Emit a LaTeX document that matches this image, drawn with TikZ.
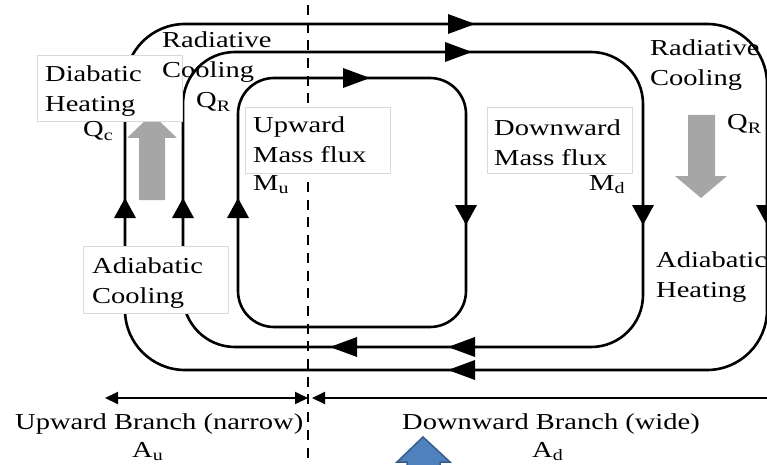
\documentclass[tikz,border=0pt]{standalone}
\usepackage{fontspec}
\setmainfont[FakeStretch=1.25]{Liberation Serif}
\usetikzlibrary{arrows.meta}
\definecolor{arrgray}{HTML}{A6A6A6}
\definecolor{boxgray}{HTML}{D9D9D9}
\definecolor{blueA}{HTML}{4F81BD}
\definecolor{blueB}{HTML}{385D8A}
\tikzset{
  loopline/.style={line width=2.6pt},
  txt/.style={font=\fontsize{22.8}{30}\selectfont, inner sep=0pt, anchor=base west, align=left},
  lbox/.style={draw=boxgray, line width=0.8pt, fill=white, anchor=north west, inner sep=0pt},
  dimline/.style={line width=2pt},
  headR/.pic={\fill (0,0) -- (-27,-10) -- (-27,10) -- cycle;},
  headL/.pic={\fill (0,0) -- (27,-10) -- (27,10) -- cycle;},
  headU/.pic={\fill (0,0) -- (-11,20) -- (11,20) -- cycle;},
  headD/.pic={\fill (0,0) -- (-11,-20) -- (11,-20) -- cycle;},
}
\begin{document}
\begin{tikzpicture}[x=1pt,y=-1pt]
\useasboundingbox (0,0) rectangle (767,465);
% loops
\draw[loopline, rounded corners=60pt] (125,200) -- (125,24) -- (767,24) -- (767,370) -- (125,370) -- cycle;
\draw[loopline, rounded corners=52pt] (183,200) -- (183,52) -- (643,52) -- (643,347) -- (183,347) -- cycle;
\draw[loopline, rounded corners=36pt] (238,200) -- (238,78) -- (466,78) -- (466,327) -- (238,327) -- cycle;
% arrow heads on loops
\pic at (475,24) {headR};
\pic at (472,52) {headR};
\pic at (370,78) {headR};
\pic at (466,225) {headD};
\pic at (643,225) {headD};
\pic at (767,225) {headD};
\pic at (125,198) {headU};
\pic at (183,198) {headU};
\pic at (238,198) {headU};
\pic at (330,347) {headL};
\pic at (448,347) {headL};
\pic at (448,370) {headL};
% dashed divider
\coordinate (dtop) at (308,5);
\coordinate (dbot) at (308,462);
\draw[line width=2.8pt, dash pattern=on 10pt off 7.7pt] (dtop) -- (dbot);
% gray block arrows
\fill[arrgray] (139,200) -- (139,138) -- (127,138) -- (152,114) -- (177,138) -- (165,138) -- (165,200) -- cycle;
\fill[arrgray] (688,115) -- (715,115) -- (715,176) -- (727,176) -- (701,198) -- (675,176) -- (688,176) -- cycle;
% blue arrow head at bottom
\filldraw[fill=blueA, draw=blueB, line width=1.5pt] (423,437) -- (450,462) -- (440,462) -- (440,480) -- (407,480) -- (407,462) -- (397,462) -- cycle;
% boxes
\node[lbox, minimum width=145pt, minimum height=66pt] (dhbox) at (37,55) {};
\node[lbox, minimum width=145pt, minimum height=66pt] (umbox) at (245,107) {};
\node[lbox, minimum width=145pt, minimum height=66pt] (dmbox) at (487,107) {};
\node[lbox, minimum width=145pt, minimum height=67pt] (acbox) at (83,246) {};
% texts (base = baseline of the last line)
\node[txt] (dh) at (45,112) {Diabatic\\Heating};
\node[txt] (qc) at (83,137) {Q\textsubscript{c}};
\node[txt] (rc1) at (162,78) {Radiative\\Cooling};
\node[txt] (qr1) at (196,108) {Q\textsubscript{R}};
\node[txt] (um) at (253,163) {Upward\\Mass flux};
\node[txt] (mu) at (253,190) {M\textsubscript{u}};
\node[txt] (dm) at (494,165) {Downward\\Mass flux};
\node[txt] (md) at (589,190) {M\textsubscript{d}};
\node[txt] (rc2) at (650,86) {Radiative\\Cooling};
\node[txt] (qr2) at (727,130) {Q\textsubscript{R}};
\node[txt] (ac) at (92,303) {Adiabatic\\Cooling};
\node[txt] (ah) at (656,297) {Adiabatic\\Heating};
\node[txt] (ub) at (15,429) {Upward Branch (narrow)};
\node[txt] (au) at (132,457) {A\textsubscript{u}};
\node[txt] (db) at (402,429) {Downward Branch (wide)};
\node[txt] (ad) at (532,457) {A\textsubscript{d}};
% branch dimension arrows
\coordinate (ul) at (105,398);
\coordinate (ur) at (308,398);
\coordinate (dl) at (312,398);
\coordinate (dr) at (770,398);
\draw[dimline, {Triangle[length=13pt,width=12pt]}-{Triangle[length=13pt,width=12pt]}] (ul) -- (ur);
\draw[dimline, {Triangle[length=13pt,width=12pt]}-] (dl) -- (dr);
\end{tikzpicture}
\end{document}
